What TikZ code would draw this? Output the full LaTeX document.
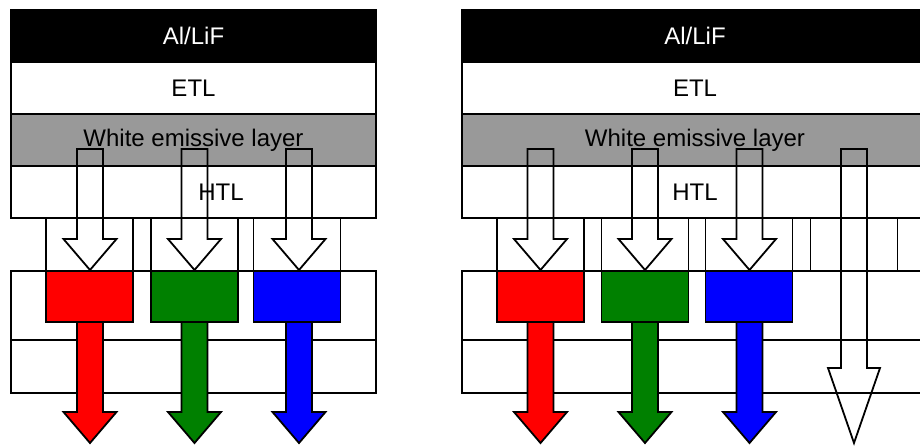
\documentclass[tikz,border=0pt]{standalone}
\usepackage{fontspec}
\setmainfont{Liberation Sans}
\definecolor{emgray}{RGB}{153,153,153}
\definecolor{cgreen}{RGB}{0,128,0}
\definecolor{cred}{RGB}{255,0,0}
\definecolor{cblue}{RGB}{0,0,255}
\newcommand\dnarrow[7]{%
  \draw[#1] ({#2-#3},#4) -- ({#2-#3},#5) -- ({#2-#6},#5) -- (#2,#7) -- ({#2+#6},#5) -- ({#2+#3},#5) -- ({#2+#3},#4) -- cycle;}
\begin{document}
\begin{tikzpicture}[x=1pt,y=-1pt,line width=1.8pt,
  layer/.style={draw=black,inner sep=0pt,minimum height=52pt,font=\fontsize{24}{28}\selectfont},
  lbl/.style={inner sep=0pt,font=\fontsize{24}{28}\selectfont},
  openbox/.style={draw=black,inner sep=0pt,minimum width=87pt,minimum height=53pt},
  colbox/.style={draw=black,inner sep=0pt,minimum width=87pt,minimum height=51pt},
  lowrow/.style={draw=black,inner sep=0pt},
  whitearrow/.style={draw=black,line join=miter},
  colarrow/.style={draw=black,fill=#1,line join=miter}]
\path[use as bounding box] (0,0) rectangle (920,445);
\clip (0,0) rectangle (920,445);
% ---------- left panel ----------
\node[layer,fill=black,text=white,minimum width=365pt] (L1) at (193.5,36) {Al/LiF};
\node[layer,fill=white,minimum width=365pt] (L2) at (193.5,88) {ETL};
\node[layer,fill=emgray,minimum width=365pt] (L3) at (193.5,140) {White emissive layer};
\node[layer,fill=white,minimum width=365pt] (L4) at (193.5,192) {};
\node[lbl] (L4t) at (221,192) {HTL};
\node[lowrow,minimum width=365pt,minimum height=69pt] (L5) at (193.5,305.5) {};
\node[lowrow,minimum width=365pt,minimum height=53pt] (L6) at (193.5,366.5) {};
\node[openbox] (LB1) at (89.5,244.5) {};
\node[openbox] (LB2) at (194.5,244.5) {};
\node[openbox] (LB3) at (297,244.5) {};
\node[colbox,fill=cred] (LC1) at (89.5,296.5) {};
\node[colbox,fill=cgreen] (LC2) at (194.5,296.5) {};
\node[colbox,fill=cblue] (LC3) at (297,296.5) {};
\dnarrow{whitearrow}{90}{13}{149}{239}{26.5}{270}
\dnarrow{whitearrow}{194.5}{13}{149}{239}{26.5}{270}
\dnarrow{whitearrow}{299}{13}{149}{239}{26.5}{270}
\dnarrow{colarrow=cred}{90}{13}{322}{412}{26.5}{443}
\dnarrow{colarrow=cgreen}{194.5}{13}{322}{412}{26.5}{443}
\dnarrow{colarrow=cblue}{299}{13}{322}{412}{26.5}{443}
% ---------- right panel ----------
\node[layer,fill=black,text=white,minimum width=466pt] (R1) at (695,36) {Al/LiF};
\node[layer,fill=white,minimum width=466pt] (R2) at (695,88) {ETL};
\node[layer,fill=emgray,minimum width=466pt] (R3) at (695,140) {White emissive layer};
\node[layer,fill=white,minimum width=466pt] (R4) at (695,192) {HTL};
\node[lowrow,minimum width=466pt,minimum height=69pt] (R5) at (695,305.5) {};
\node[lowrow,minimum width=466pt,minimum height=53pt] (R6) at (695,366.5) {};
\node[openbox] (RB1) at (540.5,244.5) {};
\node[openbox] (RB2) at (645,244.5) {};
\node[openbox] (RB3) at (749,244.5) {};
\node[openbox] (RB4) at (854,244.5) {};
\node[colbox,fill=cred] (RC1) at (540.5,296.5) {};
\node[colbox,fill=cgreen] (RC2) at (645,296.5) {};
\node[colbox,fill=cblue] (RC3) at (749,296.5) {};
\dnarrow{whitearrow}{540.5}{13}{149}{239}{26.5}{270}
\dnarrow{whitearrow}{645}{13}{149}{239}{26.5}{270}
\dnarrow{whitearrow}{749.5}{13}{149}{239}{26.5}{270}
\dnarrow{whitearrow}{854}{13}{149}{368}{26}{443}
\dnarrow{colarrow=cred}{540.5}{13}{322}{412}{26.5}{443}
\dnarrow{colarrow=cgreen}{645}{13}{322}{412}{26.5}{443}
\dnarrow{colarrow=cblue}{749.5}{13}{322}{412}{26.5}{443}
\end{tikzpicture}
\end{document}
